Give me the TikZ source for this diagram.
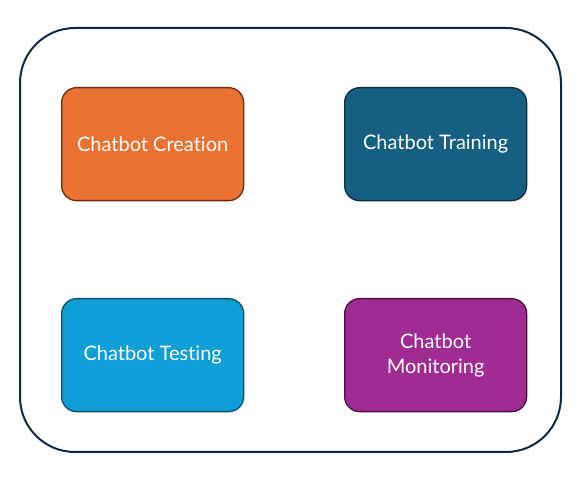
\documentclass[tikz,border=0pt]{standalone}
\usepackage{fontspec}
\setmainfont{Lato}[Ligatures={NoCommon}]
\begin{document}
\begin{tikzpicture}[x=1pt,y=-1pt,
  outer/.style={draw=outerc,line width=2pt,rounded corners=55pt},
  card/.style={rounded corners=15pt,line width=1.3pt,minimum width=182pt,minimum height=113pt,
     text=white,align=center,font=\fontsize{20}{25}\selectfont,inner sep=0pt,anchor=north west}]
\definecolor{outerc}{HTML}{0E2841}
\definecolor{orangef}{HTML}{E97132}\definecolor{oranged}{HTML}{6A2C0C}
\definecolor{tealf}{HTML}{156082}\definecolor{teald}{HTML}{0B2F40}
\definecolor{bluef}{HTML}{0F9ED5}\definecolor{blued}{HTML}{0A4E69}
\definecolor{purplef}{HTML}{A02B93}\definecolor{purpled}{HTML}{4A0F43}
\useasboundingbox (0,0) rectangle (582,497);
\draw[outer] (20,28) rectangle (561,452);
\node[card,fill=orangef,draw=oranged] (creation) at (61,87) {Chatbot Creation};
\node[card,fill=tealf,draw=teald] (training) at (344,87) {Chatbot Training};
\node[card,fill=bluef,draw=blued] (testing) at (61,298) {Chatbot Testing};
\node[card,fill=purplef,draw=purpled] (monitoring) at (344,298) {Chatbot\\Monitoring};
\end{tikzpicture}
\end{document}
